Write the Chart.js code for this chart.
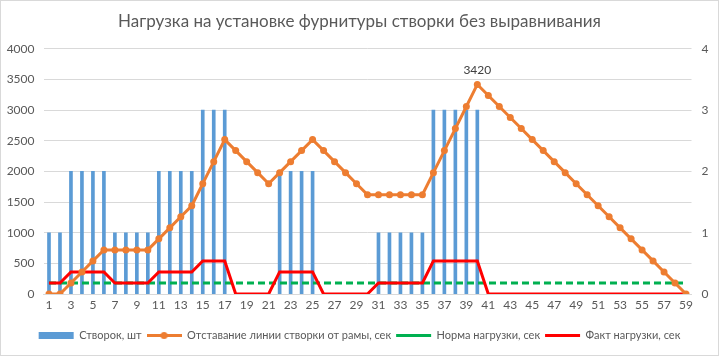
<!DOCTYPE html>
<html><head><meta charset="utf-8">
<script src="https://cdn.jsdelivr.net/npm/chart.js@4"></script>
<style>html,body{margin:0;padding:0;background:#fff;}canvas{display:block;}</style>
</head><body>
<canvas id="c" width="719" height="356"></canvas>
<script>
const titleText = 'Нагрузка на установке фурнитуры створки без выравнивания';
const categories = ['1','2','3','4','5','6','7','8','9','10','11','12','13','14','15','16','17','18','19','20','21','22','23','24','25','26','27','28','29','30','31','32','33','34','35','36','37','38','39','40','41','42','43','44','45','46','47','48','49','50','51','52','53','54','55','56','57','58','59'];
const sashCount = [1,1,2,2,2,2,1,1,1,1,2,2,2,2,3,3,3,0,0,0,0,2,2,2,2,0,0,0,0,0,1,1,1,1,1,3,3,3,3,3,0,0,0,0,0,0,0,0,0,0,0,0,0,0,0,0,0,0,0];
const lagSeconds = [0,0,180,360,540,720,720,720,720,720,900,1080,1260,1440,1800,2160,2520,2340,2160,1980,1800,1980,2160,2340,2520,2340,2160,1980,1800,1620,1620,1620,1620,1620,1620,1980,2340,2700,3060,3420,3240,3060,2880,2700,2520,2340,2160,1980,1800,1620,1440,1260,1080,900,720,540,360,180,0];
const normLoad = [180,180,180,180,180,180,180,180,180,180,180,180,180,180,180,180,180,180,180,180,180,180,180,180,180,180,180,180,180,180,180,180,180,180,180,180,180,180,180,180,180,180,180,180,180,180,180,180,180,180,180,180,180,180,180,180,180,180,180];
const factLoad = [180,180,360,360,360,360,180,180,180,180,360,360,360,360,540,540,540,0,0,0,0,360,360,360,360,0,0,0,0,0,180,180,180,180,180,540,540,540,540,540,0,0,0,0,0,0,0,0,0,0,0,0,0,0,0,0,0,0,0];
const seriesNames = ['Створок, шт','Отставание линии створки от рамы, сек','Норма нагрузки, сек','Факт нагрузки, сек'];
const leftTicks = [0,500,1000,1500,2000,2500,3000,3500,4000];
const rightTicks = [0,1,2,3,4];
const peakLabel = '3420';
const peakIndex = 39;

const FONT = 'Lato, "Liberation Sans", sans-serif';
const TXT = '#595959';

const orangeIcon = document.createElement('canvas');
orangeIcon.width = 35; orangeIcon.height = 9;
(function(){
  const g = orangeIcon.getContext('2d');
  g.strokeStyle = '#ed7d31'; g.lineWidth = 3;
  g.beginPath(); g.moveTo(0,4.5); g.lineTo(35,4.5); g.stroke();
  g.fillStyle = '#ed7d31';
  g.beginPath(); g.arc(17.5,4.5,3.5,0,Math.PI*2); g.fill();
})();

const framePlugin = {
  id: 'frame',
  beforeDraw(chart){
    const c = chart.ctx;
    c.save();
    c.fillStyle = '#fff';
    c.fillRect(0,0,chart.width,chart.height);
    c.strokeStyle = '#d9d9d9'; c.lineWidth = 1;
    c.strokeRect(0.5,0.5,chart.width-1,chart.height-1);
    c.restore();
  }
};
const peakPlugin = {
  id: 'peak',
  afterDatasetsDraw(chart){
    const meta = chart.getDatasetMeta(1);
    const el = meta.data[peakIndex];
    if (!el) return;
    const c = chart.ctx;
    c.save();
    c.font = '12px ' + FONT;
    c.fillStyle = '#404040';
    c.textAlign = 'center'; c.textBaseline = 'middle';
    c.fillText(peakLabel, el.x, el.y - 14);
    c.restore();
  }
};

new Chart(document.getElementById('c'), {
  type: 'bar',
  data: {
    labels: categories,
    datasets: [
      { type:'bar', label: seriesNames[0], data: sashCount, yAxisID:'y1', backgroundColor:'#5b9bd5', borderWidth:0, barThickness:3, order:4, pointStyle:'rect' },
      { type:'line', label: seriesNames[1], data: lagSeconds, yAxisID:'y', borderColor:'#ed7d31', backgroundColor:'#ed7d31', borderWidth:3, pointRadius:3.5, pointBorderWidth:0, pointBackgroundColor:'#ed7d31', tension:0, order:1 },
      { type:'line', label: seriesNames[2], data: normLoad, yAxisID:'y', borderColor:'#00b050', backgroundColor:'#00b050', borderWidth:3, borderDash:[7,4], pointRadius:0, tension:0, order:3, pointStyle:'line' },
      { type:'line', label: seriesNames[3], data: factLoad, yAxisID:'y', borderColor:'#ff0000', backgroundColor:'#ff0000', borderWidth:3, pointRadius:0, tension:0, order:2, pointStyle:'line' }
    ]
  },
  options: {
    responsive:false, animation:false,
    layout: { padding: { left:0, right:0, top:0, bottom:5 } },
    plugins: {
      title: { display:true, text:titleText, color:TXT, font:{ family:FONT, size:17, weight:'normal' }, padding:{ top:11.5, bottom:17 } },
      tooltip: { enabled:false },
      legend: {
        position:'bottom',
        labels: {
          usePointStyle:true, pointStyleWidth:35, boxHeight:7, padding:5,
          color:TXT, font:{ family:FONT, size:11 },
          generateLabels(chart){
            const items = Chart.defaults.plugins.legend.labels.generateLabels(chart);
            items.sort((a,b)=>a.datasetIndex-b.datasetIndex);
            items.forEach((it)=>{
              const i = it.datasetIndex;
              it.fontColor = TXT;
              if (i===1) { it.pointStyle = orangeIcon; }
              if (i===0) { it.pointStyle='rect'; it.lineWidth=0; }
              if (i>=2) { it.pointStyle='line'; it.lineWidth=3; }
            });
            return items;
          }
        }
      }
    },
    scales: {
      x: {
        grid:{ display:false, drawTicks:false },
        border:{ color:'#d9d9d9' },
        ticks:{ color:TXT, font:{ family:FONT, size:12 }, autoSkip:false, maxRotation:0, padding:4,
          callback(v,i){ return i%2===0 ? this.getLabelForValue(v) : ''; } },
        afterFit(s){ s.height = 31; }
      },
      y: {
        position:'left', min:0, max:4000,
        afterBuildTicks(s){ s.ticks = leftTicks.map(v=>({value:v})); },
        grid:{ color:'#d9d9d9', drawTicks:false },
        border:{ display:false },
        ticks:{ color:TXT, font:{ family:FONT, size:12 }, padding:9, callback(v){ return String(v); } },
        afterFit(s){ s.width = 43.5; }
      },
      y1: {
        position:'right', min:0, max:4,
        afterBuildTicks(s){ s.ticks = rightTicks.map(v=>({value:v})); },
        grid:{ display:false, drawTicks:false },
        border:{ display:false },
        ticks:{ color:TXT, font:{ family:FONT, size:12 }, padding:10, callback(v){ return String(v); } },
        afterFit(s){ s.width = 27.5; }
      }
    }
  },
  plugins:[framePlugin, peakPlugin]
});
</script>
</body></html>
